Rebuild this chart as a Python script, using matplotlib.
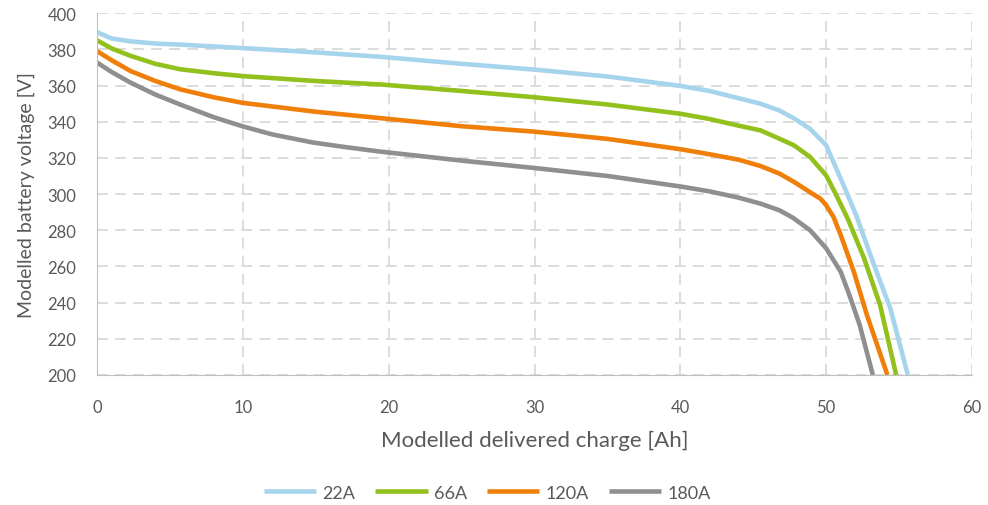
import matplotlib
matplotlib.use("Agg")
from matplotlib import pyplot as plt

# modelled discharge curves
q_22 = [0, 1, 2.3, 4, 6, 10, 15, 19.4, 25, 30, 35, 40, 42, 44, 45.5, 46.8,
        47.8, 48.9, 50, 50.7, 51.4, 52.1, 53.2, 54.4, 55.6]
v_22 = [389.5, 386, 384.4, 383.2, 382.5, 380.7, 378.3, 375.9, 372, 368.8, 365,
        359.8, 357, 353, 349.9, 346.2, 341.8, 336, 327, 314, 301, 287.4, 262.6,
        236.8, 200]

q_66 = [0, 1, 2.3, 4, 5.7, 8, 10, 15, 19.4, 25, 30, 35, 40, 42, 44, 45.5, 46.8,
        47.8, 48.9, 50, 50.7, 51.5, 52.6, 53.7, 54.8]
v_66 = [385, 380.5, 376.4, 372, 369, 366.8, 365.2, 362.5, 360.6, 357, 353.5,
        349.5, 344.4, 341.5, 337.8, 335.2, 330.6, 326.9, 320.5, 310.3, 299.3,
        286, 264.5, 238.6, 200]

q_120 = [0, 1, 2.3, 4, 5.7, 8, 10, 15, 19.4, 25, 30, 35, 40, 42, 44, 45.5, 46.8,
         47.8, 48.9, 49.6, 50, 50.5, 51, 51.9, 52.8, 54.2]
v_120 = [379, 374, 368, 362.5, 357.9, 353.5, 350.4, 345.5, 342, 337.5, 334.5,
         330.5, 324.8, 322, 319, 315.5, 311.3, 306.7, 301, 297.5, 293.8, 287.4,
         277.3, 257, 233, 200]

q_180 = [0, 1, 2.3, 4, 5.7, 8, 10, 12, 14.8, 17, 19.4, 25, 30, 35, 40, 42, 44,
         45.5, 46.8, 47.7, 48.9, 50, 51, 51.6, 52.3, 53.2]
v_180 = [372.7, 367.5, 361.6, 355, 349.5, 342.5, 337.4, 333, 328.5, 326, 323.5,
         318.5, 314.4, 310, 304.2, 301.5, 298, 294.7, 291, 287, 280, 270, 257,
         244, 227.6, 200]

labels = ["22A", "66A", "120A", "180A"]
colors = ["#a6d4ec", "#92c01c", "#f07f09", "#8f8f8f"]

plt.rcParams['font.family'] = ['Lato', 'DejaVu Sans']
txt = "#595959"

fig = plt.figure(figsize=(9.88, 5.06), dpi=100)
ax = fig.add_axes([0.0982, 0.257, 0.8856, 0.715])

series = [(q_22, v_22), (q_66, v_66), (q_120, v_120), (q_180, v_180)]
for (q, v), lab, c in zip(series, labels, colors):
    ax.plot(q, v, color=c, lw=3.3, label=lab, solid_capstyle='butt')

ax.set_xlim(0, 60)
ax.set_ylim(200, 400)
ax.set_xticks(range(0, 61, 10))
ax.set_yticks(range(200, 401, 20))
ax.grid(True, color="#d9d9d9", lw=1.3, linestyle=(0, (6, 4)))
ax.set_axisbelow(True)
for s in ["top", "right"]:
    ax.spines[s].set_visible(False)
for s in ["left", "bottom"]:
    ax.spines[s].set_color("#bfbfbf")
ax.tick_params(length=0, labelsize=12, colors=txt)
ax.tick_params(axis='y', pad=15)
ax.tick_params(axis='x', pad=17)

ax.set_xlabel("Modelled delivered charge [Ah]", fontsize=16, color=txt, labelpad=11)
ax.set_ylabel("Modelled battery voltage [V]", fontsize=14, color=txt, labelpad=9)

ax.legend(loc="center", bbox_to_anchor=(0.446, -0.325), ncol=4, frameon=False,
          fontsize=13, labelcolor=txt, handlelength=2.9, handletextpad=0.35,
          columnspacing=1.1)

fig.savefig("out.png", dpi=100)
